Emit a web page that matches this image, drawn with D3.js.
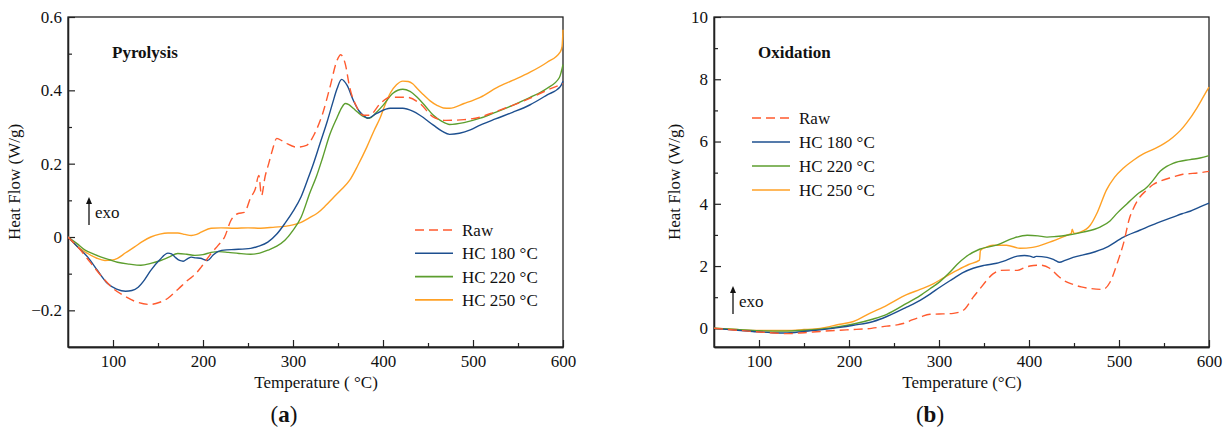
<!DOCTYPE html>
<html>
<head>
<meta charset="utf-8">
<script src="https://cdn.jsdelivr.net/npm/d3@7"></script>
<style>
  body { margin: 0; background: #fff; }
  text { font-family: "Liberation Serif", "DejaVu Serif", serif; fill: #111; }
</style>
</head>
<body>
<svg id="chart" width="1224" height="430"></svg>
<script>
// series names + colours
const seriesNames = ["Raw", "HC 180 °C", "HC 220 °C", "HC 250 °C"];
const seriesColors = ["#ff5a2e", "#1d4f8f", "#5c9e2e", "#ffa125"];

// (a) pyrolysis, [temperature, heat flow]
const pyroRaw = [[50,0],[62,-0.03],[75,-0.07],[90,-0.115],[100,-0.14],[112,-0.16],[125,-0.176],[141,-0.184],[152,-0.178],[161,-0.167],[172,-0.143],[183,-0.118],[192,-0.1],[198,-0.082],[209,-0.045],[217,-0.022],[224,0],[231,0.045],[239,0.064],[246,0.067],[253,0.108],[258,0.13],[262,0.168],[265,0.113],[269,0.165],[273,0.2],[277,0.236],[282,0.269],[288,0.262],[293,0.255],[304,0.245],[315,0.25],[324,0.282],[333,0.337],[341,0.408],[349,0.482],[353,0.497],[358,0.473],[363,0.408],[371,0.354],[378,0.332],[385,0.332],[397,0.364],[408,0.381],[427,0.381],[441,0.364],[456,0.327],[470,0.318],[490,0.32],[508,0.327],[525,0.342],[544,0.359],[563,0.378],[582,0.4],[600,0.418]];
const pyro180 = [[50,0],[60,-0.025],[72,-0.055],[83,-0.092],[94,-0.127],[104,-0.142],[114,-0.148],[121,-0.146],[128,-0.137],[135,-0.117],[142,-0.091],[152,-0.062],[161,-0.044],[165,-0.046],[169,-0.055],[174,-0.064],[178,-0.066],[183,-0.059],[187,-0.055],[192,-0.057],[197,-0.058],[205,-0.064],[211,-0.05],[217,-0.039],[226,-0.035],[235,-0.034],[253,-0.031],[262,-0.025],[272,-0.014],[282,0.008],[291,0.037],[300,0.07],[309,0.11],[316,0.155],[322,0.195],[330,0.255],[338,0.315],[344,0.365],[349,0.405],[354,0.43],[360,0.414],[367,0.373],[373,0.345],[378,0.332],[383,0.324],[393,0.337],[408,0.351],[422,0.351],[433,0.343],[441,0.332],[456,0.305],[466,0.288],[474,0.28],[485,0.283],[497,0.292],[508,0.305],[525,0.322],[544,0.34],[563,0.36],[582,0.387],[597,0.41],[600,0.425]];
const pyro220 = [[50,0],[60,-0.018],[69,-0.036],[78,-0.046],[87,-0.055],[96,-0.062],[105,-0.069],[118,-0.074],[131,-0.077],[142,-0.072],[153,-0.064],[162,-0.055],[172,-0.045],[182,-0.047],[191,-0.05],[200,-0.048],[209,-0.042],[218,-0.04],[228,-0.042],[240,-0.045],[253,-0.047],[263,-0.044],[272,-0.036],[282,-0.025],[291,-0.009],[300,0.018],[309,0.054],[319,0.122],[326,0.165],[333,0.217],[341,0.28],[349,0.326],[354,0.352],[358,0.364],[362,0.361],[367,0.351],[372,0.34],[378,0.329],[385,0.324],[392,0.338],[400,0.359],[411,0.392],[422,0.403],[430,0.397],[438,0.381],[446,0.36],[456,0.332],[465,0.316],[474,0.307],[490,0.312],[508,0.324],[525,0.34],[544,0.359],[563,0.38],[582,0.405],[596,0.435],[600,0.47]];
const pyro250 = [[50,0],[60,-0.025],[72,-0.045],[82,-0.058],[91,-0.064],[98,-0.063],[105,-0.058],[114,-0.043],[124,-0.027],[133,-0.012],[142,0],[152,0.008],[161,0.011],[172,0.011],[180,0.007],[187,0.004],[193,0.007],[198,0.013],[209,0.024],[220,0.025],[235,0.024],[250,0.025],[264,0.024],[280,0.027],[291,0.029],[300,0.033],[309,0.04],[318,0.052],[328,0.067],[336,0.085],[345,0.108],[354,0.13],[363,0.155],[372,0.195],[382,0.245],[390,0.29],[397,0.326],[403,0.365],[408,0.392],[415,0.415],[422,0.425],[428,0.424],[433,0.418],[438,0.405],[444,0.39],[452,0.372],[460,0.359],[467,0.352],[474,0.351],[490,0.364],[508,0.381],[527,0.408],[544,0.427],[563,0.449],[582,0.476],[597,0.505],[599,0.52],[600,0.565]];

// (b) oxidation
const oxiRaw = [[50,0],[75,-0.06],[101,-0.12],[131,-0.17],[150,-0.14],[168,-0.1],[190,-0.06],[205,-0.04],[225,0],[242,0.07],[255,0.12],[262,0.17],[270,0.27],[279,0.36],[290,0.45],[300,0.46],[316,0.48],[327,0.58],[338,1.0],[345,1.25],[353,1.54],[360,1.75],[368,1.86],[378,1.87],[387,1.86],[395,1.95],[401,2.0],[412,2.03],[423,1.93],[434,1.64],[441,1.5],[449,1.41],[458,1.33],[468,1.28],[482,1.25],[490,1.48],[498,2.09],[505,2.73],[512,3.57],[516,3.85],[523,4.21],[530,4.42],[538,4.62],[545,4.72],[560,4.86],[571,4.95],[579,4.97],[590,5.0],[600,5.04]];
const oxi180 = [[50,0],[70,-0.05],[93,-0.1],[115,-0.14],[131,-0.15],[150,-0.1],[168,-0.05],[190,0.03],[205,0.1],[227,0.22],[242,0.38],[264,0.68],[279,0.9],[290,1.1],[301,1.32],[315,1.58],[326,1.78],[338,1.93],[350,2.02],[364,2.09],[375,2.19],[387,2.32],[395,2.34],[401,2.32],[405,2.28],[408,2.31],[420,2.28],[428,2.2],[434,2.12],[440,2.18],[449,2.28],[468,2.41],[486,2.6],[505,2.93],[523,3.15],[542,3.38],[560,3.57],[570,3.68],[579,3.76],[590,3.9],[600,4.02]];
const oxi220 = [[50,0],[75,-0.04],[100,-0.08],[130,-0.09],[150,-0.06],[170,-0.02],[190,0.06],[205,0.14],[227,0.3],[242,0.45],[264,0.8],[279,1.05],[290,1.27],[301,1.5],[312,1.8],[320,2.05],[330,2.3],[345,2.54],[364,2.67],[382,2.89],[398,2.99],[410,2.97],[420,2.93],[430,2.95],[442,2.99],[460,3.09],[479,3.25],[490,3.45],[498,3.7],[509,4.0],[520,4.3],[531,4.53],[538,4.76],[546,5.05],[553,5.2],[560,5.3],[579,5.42],[590,5.47],[600,5.55]];
const oxi250 = [[50,0],[75,-0.04],[100,-0.07],[130,-0.07],[150,-0.04],[168,0.0],[190,0.13],[205,0.22],[223,0.48],[242,0.74],[264,1.08],[279,1.25],[293,1.42],[305,1.62],[320,1.86],[333,2.05],[345,2.19],[346,2.5],[352,2.6],[360,2.67],[375,2.67],[390,2.57],[404,2.6],[423,2.77],[442,2.99],[447,3.05],[448,3.18],[450,3.05],[457,3.09],[468,3.31],[476,3.73],[486,4.44],[495,4.85],[505,5.15],[516,5.4],[527,5.6],[538,5.75],[550,5.93],[560,6.14],[568,6.35],[575,6.59],[587,7.1],[594,7.45],[600,7.75]];

// ticks
const xMajor = [100, 200, 300, 400, 500, 600];
const xMinor = [150, 250, 350, 450, 550];
const yMajorA = [-0.2, 0, 0.2, 0.4, 0.6];
const yMinorA = [-0.1, 0.1, 0.3, 0.5];
const yMajorB = [0, 2, 4, 6, 8, 10];
const yMinorB = [1, 3, 5, 7, 9];

const svg = d3.select("#chart");
const fs = 17;

function panel(opt) {
  const x = d3.scaleLinear([50, 600], [opt.left, opt.right]);
  const y = d3.scaleLinear(opt.yDomain, [347, 17]);
  const g = svg.append("g");

  // frame
  g.append("rect")
    .attr("x", opt.left).attr("y", 17)
    .attr("width", opt.right - opt.left).attr("height", 330)
    .attr("fill", "none").attr("stroke", "#222").attr("stroke-width", 1.3);

  // x axis, inward ticks
  g.append("g").attr("transform", "translate(0,347)")
    .call(d3.axisBottom(x).tickValues(xMajor).tickSize(-7).tickSizeOuter(0).tickPadding(8).tickFormat(d3.format("d")));
  g.append("g").attr("transform", "translate(0,347)")
    .call(d3.axisBottom(x).tickValues(xMinor).tickSize(-4).tickSizeOuter(0).tickFormat(""));

  g.append("g").attr("transform", `translate(${opt.left},0)`)
    .call(d3.axisLeft(y).tickValues(opt.yMajor).tickSize(-7).tickSizeOuter(0).tickPadding(6).tickFormat(opt.yFmt));
  g.append("g").attr("transform", `translate(${opt.left},0)`)
    .call(d3.axisLeft(y).tickValues(opt.yMinor).tickSize(-4).tickSizeOuter(0).tickFormat(""));

  g.selectAll(".domain").attr("stroke", "#222").attr("stroke-width", 1.3);
  g.selectAll(".tick line").attr("stroke", "#222").attr("stroke-width", 1.2);
  g.selectAll(".tick text").attr("font-size", fs).attr("font-family", "Liberation Serif").attr("fill", "#111");

  // curves
  const line = d3.line().x(d => x(d[0])).y(d => y(d[1])).curve(d3.curveMonotoneX);
  const clipId = "clip" + opt.id;
  svg.append("clipPath").attr("id", clipId).append("rect")
    .attr("x", opt.left).attr("y", 0).attr("width", opt.right - opt.left + 1).attr("height", 347);
  const cg = g.append("g").attr("clip-path", `url(#${clipId})`);
  opt.series.slice().reverse().forEach((s, j) => {
    const i = opt.series.length - 1 - j;
    cg.append("path").datum(s)
      .attr("fill", "none")
      .attr("stroke", seriesColors[i])
      .attr("stroke-width", 1.4)
      .attr("stroke-dasharray", i === 0 ? "9,5" : null)
      .attr("d", line);
  });

  // titles
  g.append("text").attr("x", opt.titleX).attr("y", 58)
    .attr("font-size", fs).attr("font-weight", "bold").text(opt.title);

  g.append("text")
    .attr("transform", `translate(${opt.ylabX},182) rotate(-90)`)
    .attr("text-anchor", "middle").attr("font-size", fs)
    .text("Heat Flow (W/g)");
  g.append("text").attr("x", opt.xlabX).attr("y", 388)
    .attr("text-anchor", "middle").attr("font-size", fs)
    .text(opt.xlab);
  const pl = g.append("text").attr("x", opt.tagX).attr("y", 422)
    .attr("text-anchor", "middle").attr("font-size", 23);
  pl.append("tspan").text("(");
  pl.append("tspan").attr("font-weight", "bold").text(opt.tag);
  pl.append("tspan").text(")");

  // exo arrow
  const ex = opt.exo;
  g.append("line").attr("x1", ex.x).attr("x2", ex.x).attr("y1", ex.y + 28).attr("y2", ex.y + 4)
    .attr("stroke", "#111").attr("stroke-width", 1.3);
  g.append("path")
    .attr("d", `M${ex.x - 3},${ex.y + 7}L${ex.x},${ex.y}L${ex.x + 3},${ex.y + 7}Z`)
    .attr("fill", "#111");
  g.append("text").attr("x", ex.x + 6).attr("y", ex.y + 21).attr("font-size", fs).text("exo");

  // legend
  const lg = g.append("g");
  seriesNames.forEach((n, i) => {
    const ly = opt.legY + i * opt.legStep;
    lg.append("line")
      .attr("x1", opt.legX).attr("x2", opt.legX + 38)
      .attr("y1", ly).attr("y2", ly)
      .attr("stroke", seriesColors[i]).attr("stroke-width", 1.6)
      .attr("stroke-dasharray", i === 0 ? "9,5" : null);
    lg.append("text").attr("x", opt.legX + 47).attr("y", ly + 6)
      .attr("font-size", fs).text(n);
  });
}

panel({
  id: "a", left: 68, right: 563, yDomain: [-0.3, 0.6],
  yMajor: yMajorA, yMinor: yMinorA,
  yFmt: d => d === 0 ? "0" : d3.format(".1f")(d).replace("-", "\u2212"),
  series: [pyroRaw, pyro180, pyro220, pyro250],
  title: "Pyrolysis", titleX: 112,
  ylabX: 20, xlabX: 316, xlab: "Temperature ( °C)", tagX: 284, tag: "a",
  exo: {x: 89, y: 197},
  legX: 415, legY: 230, legStep: 23.3
});

panel({
  id: "b", left: 714, right: 1209, yDomain: [-0.6, 10],
  yMajor: yMajorB, yMinor: yMinorB,
  yFmt: d3.format("d"),
  series: [oxiRaw, oxi180, oxi220, oxi250],
  title: "Oxidation", titleX: 758,
  ylabX: 680, xlabX: 962, xlab: "Temperature (°C)", tagX: 930, tag: "b",
  exo: {x: 733, y: 286},
  legX: 752, legY: 118, legStep: 24
});
</script>
</body>
</html>
